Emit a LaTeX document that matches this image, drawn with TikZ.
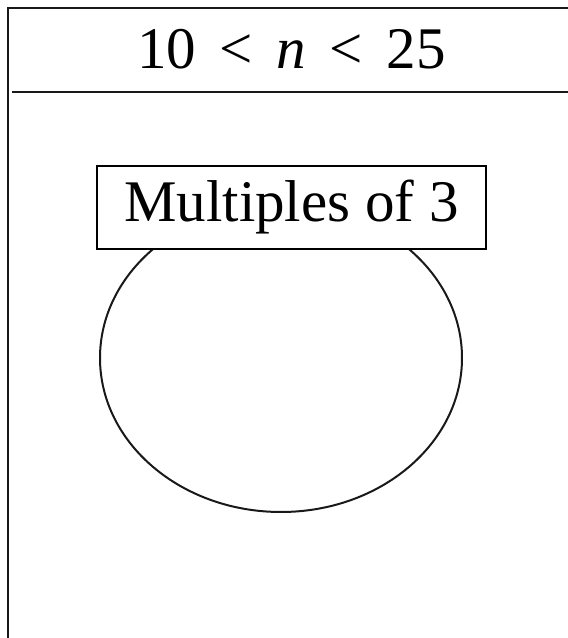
\documentclass[tikz,border=0pt]{standalone}
\usepackage{fontspec}
\setmainfont{Liberation Serif}
\usetikzlibrary{positioning}

\begin{document}
\begin{tikzpicture}[x=1pt, y=1pt,
    frame/.style={line width=2.2pt, black!90},
    setline/.style={line width=2pt, black!90},
    bigtext/.style={font=\fontsize{59}{70}\selectfont},
    labelbox/.style={draw, line width=2.2pt, fill=white, inner sep=0pt,
      minimum width=389pt, minimum height=83pt}]
  % ramme
  \useasboundingbox (0,0) rectangle (568,638);
  \clip (0,0) rectangle (568,638);
  \draw[frame] (8,-20) rectangle (600,630);
  \coordinate (hl) at (12,546);
  \coordinate (hr) at (600,546);
  \draw[frame] (hl) -- (hr);
  % overskrift
  \node[bigtext] (title) at (291.5,589)
    {10\hspace{0.4em}\textless\hspace{0.4em}\textit{n}\hspace{0.4em}\textless\hspace{0.4em}25};
  % mængde
  \draw[setline] (281,280) ellipse [x radius=181, y radius=154];
  \node[labelbox, bigtext] (setlabel) at (291.5,430.5) {Multiples of 3};
\end{tikzpicture}
\end{document}
